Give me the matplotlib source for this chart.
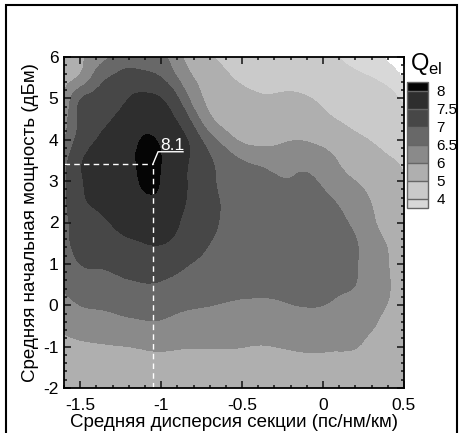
import numpy as np
import matplotlib
matplotlib.use('Agg')
import matplotlib.pyplot as plt
import matplotlib.tri as mtri
from matplotlib.colors import ListedColormap, BoundaryNorm
from matplotlib.patches import Rectangle

plt.rcParams['font.family'] = ['Liberation Sans', 'DejaVu Sans']
plt.rcParams['mathtext.fontset'] = 'custom'
plt.rcParams['mathtext.rm'] = 'Liberation Sans'

# average section dispersion (ps/nm/km) and average launch power (dBm) grid
disp = [-1.6, -1.5, -1.4, -1.3, -1.2, -1.1, -1.0, -0.9, -0.8, -0.7, -0.6,
        -0.5, -0.4, -0.3, -0.2, -0.1, 0.0, 0.1, 0.2, 0.3, 0.4, 0.5]
power = [6.0, 5.5, 5.0, 4.5, 4.0, 3.5, 3.0, 2.5, 2.0, 1.5, 1.0,
         0.5, 0.0, -0.5, -1.0, -1.5, -2.0]

# Q_el values, one row per power value (top to bottom)
q_el = [
    [5.6, 5.9, 6.25, 6.55, 6.75, 6.75, 6.6, 6.2, 5.6, 5.1, 4.75, 4.6, 4.5, 4.4, 4.3, 4.2, 4.1, 4.0, 3.9, 3.8, 3.7, 3.6],
    [5.8, 6.1, 6.7, 7.05, 7.2, 7.15, 7.0, 6.5, 6.0, 5.6, 5.15, 4.85, 4.7, 4.65, 4.6, 4.5, 4.35, 4.2, 4.1, 4.0, 3.9, 3.8],
    [6.0, 6.95, 7.2, 7.35, 7.5, 7.6, 7.5, 7.05, 6.3, 5.85, 5.5, 5.25, 5.1, 5.08, 5.15, 5.05, 4.85, 4.6, 4.4, 4.25, 4.1, 3.95],
    [6.25, 7.1, 7.35, 7.5, 7.65, 7.82, 7.72, 7.45, 6.8, 6.1, 5.75, 5.5, 5.35, 5.3, 5.4, 5.35, 5.15, 4.95, 4.7, 4.5, 4.3, 4.15],
    [6.45, 7.2, 7.5, 7.68, 7.8, 8.05, 7.92, 7.7, 7.3, 6.7, 6.25, 5.9, 5.78, 5.8, 5.95, 5.93, 5.75, 5.5, 5.2, 4.95, 4.7, 4.5],
    [6.8, 7.45, 7.62, 7.72, 7.86, 8.14, 8.0, 7.7, 7.4, 7.05, 6.75, 6.5, 6.4, 6.35, 6.4, 6.4, 6.25, 5.95, 5.6, 5.3, 5.08, 4.9],
    [6.9, 7.45, 7.6, 7.7, 7.82, 8.08, 7.97, 7.7, 7.35, 7.07, 6.9, 6.75, 6.65, 6.56, 6.52, 6.55, 6.43, 6.2, 6.0, 5.7, 5.35, 5.05],
    [6.9, 7.4, 7.55, 7.68, 7.8, 7.9, 7.88, 7.65, 7.35, 7.1, 6.95, 6.85, 6.8, 6.78, 6.75, 6.7, 6.62, 6.45, 6.25, 5.98, 5.6, 5.2],
    [6.9, 7.2, 7.4, 7.52, 7.65, 7.72, 7.7, 7.53, 7.3, 7.08, 6.95, 6.88, 6.85, 6.85, 6.85, 6.8, 6.75, 6.6, 6.4, 6.1, 5.7, 5.3],
    [6.85, 7.15, 7.25, 7.35, 7.42, 7.5, 7.52, 7.38, 7.2, 7.0, 6.9, 6.85, 6.85, 6.88, 6.88, 6.85, 6.8, 6.7, 6.53, 6.25, 5.95, 5.5],
    [6.75, 7.0, 7.03, 7.06, 7.12, 7.2, 7.18, 7.08, 6.98, 6.88, 6.82, 6.8, 6.8, 6.82, 6.82, 6.8, 6.75, 6.68, 6.53, 6.3, 6.02, 5.6],
    [6.6, 6.8, 6.88, 6.92, 6.95, 6.98, 6.96, 6.9, 6.85, 6.78, 6.72, 6.7, 6.7, 6.72, 6.72, 6.7, 6.65, 6.58, 6.5, 6.3, 6.05, 5.65],
    [6.3, 6.5, 6.55, 6.6, 6.65, 6.68, 6.67, 6.6, 6.55, 6.51, 6.45, 6.4, 6.38, 6.4, 6.48, 6.52, 6.5, 6.4, 6.3, 6.15, 5.98, 5.65],
    [6.1, 6.25, 6.3, 6.33, 6.38, 6.42, 6.42, 6.35, 6.3, 6.25, 6.22, 6.2, 6.2, 6.22, 6.26, 6.28, 6.25, 6.2, 6.12, 6.03, 5.85, 5.6],
    [5.8, 5.88, 5.93, 5.97, 6.0, 6.05, 6.07, 6.04, 6.02, 6.02, 6.02, 6.01, 5.98, 6.0, 6.04, 6.07, 6.06, 6.05, 6.02, 5.85, 5.65, 5.5],
    [5.62, 5.66, 5.7, 5.73, 5.76, 5.8, 5.82, 5.8, 5.78, 5.77, 5.76, 5.75, 5.74, 5.75, 5.78, 5.8, 5.8, 5.78, 5.72, 5.6, 5.48, 5.38],
    [5.45, 5.48, 5.5, 5.52, 5.55, 5.58, 5.6, 5.58, 5.56, 5.55, 5.54, 5.53, 5.52, 5.53, 5.55, 5.56, 5.56, 5.54, 5.5, 5.42, 5.33, 5.25],
]

# corner of the plane without data (upper right)
blank_disp = [0.37, 0.5]
blank_power = [6.0, 5.5]

levels = [4, 5, 6, 6.5, 7, 7.5, 8]
level_labels = ['4', '5', '6', '6.5', '7', '7.5', '8']
band_colors = ['#cacaca', '#afafaf', '#8a8a8a', '#686868', '#474747', '#2e2e2e']
under_color = '#d8d8d8'
over_color = '#050505'

# best point
peak_disp = -1.05
peak_power = 3.42
peak_label = '8.1'

# ---- triangulate the grid and let matplotlib smooth it ----
X, Y = np.meshgrid(disp, power)
Z = np.array(q_el)
ny, nx = Z.shape
tris = []
for j in range(ny - 1):
    for i in range(nx - 1):
        a = j * nx + i
        b = a + 1
        c = a + nx
        d = c + 1
        tris.append([a, b, d])
        tris.append([a, d, c])
tri = mtri.Triangulation(X.ravel(), Y.ravel(), np.array(tris))
refiner = mtri.UniformTriRefiner(tri)
tri_f, z_f = refiner.refine_field(Z.ravel(), subdiv=3)

cx = tri_f.x[tri_f.triangles].mean(axis=1)
cy = tri_f.y[tri_f.triangles].mean(axis=1)
slope = (blank_disp[1] - blank_disp[0]) / (blank_power[0] - blank_power[1])
tri_f.set_mask(cx > blank_disp[0] + (blank_power[0] - cy) * slope)

cmap = ListedColormap(band_colors)
cmap.set_under(under_color)
cmap.set_over(over_color)
norm = BoundaryNorm(levels, cmap.N)

fig = plt.figure(figsize=(4.59, 4.33), dpi=100)
ax = fig.add_axes([64 / 459, 45 / 433, 340 / 459, 331 / 433])

cs = ax.tricontourf(tri_f, z_f, levels=levels, cmap=cmap, norm=norm, extend='both')

# dashed guide lines to the maximum
dash = (0, (4, 3))
ax.plot([disp[0], peak_disp], [peak_power, peak_power], color='white', lw=1, ls=dash)
ax.plot([peak_disp, peak_disp], [power[-1], peak_power], color='white', lw=1, ls=dash)
ax.plot([peak_disp, peak_disp + 0.031, peak_disp + 0.185],
        [peak_power, peak_power + 0.29, peak_power + 0.29], color='white', lw=1)
ax.text(peak_disp + 0.045, peak_power + 0.33, peak_label, color='white',
        fontsize=12.5, ha='left', va='baseline')

ax.set_xlim(-1.6, 0.5)
ax.set_ylim(-2, 6)
ax.set_xticks([-1.5, -1, -0.5, 0, 0.5])
ax.set_xticklabels(['-1.5', '-1', '-0.5', '0', '0.5'])
ax.set_yticks([-2, -1, 0, 1, 2, 3, 4, 5, 6])
ax.set_yticklabels(['-2', '-1', '0', '1', '2', '3', '4', '5', '6'])
ax.xaxis.set_minor_locator(matplotlib.ticker.MultipleLocator(0.1))
ax.yaxis.set_minor_locator(matplotlib.ticker.MultipleLocator(0.2))
ax.tick_params(which='both', direction='in', top=True, right=True, width=1.1,
               labelsize=12.5, color='#111111')
ax.tick_params(axis='x', which='major', length=5, pad=7)
ax.tick_params(axis='y', which='major', length=5, pad=4)
ax.tick_params(which='minor', length=2.5)
for s in ax.spines.values():
    s.set_linewidth(1.3)
ax.set_xlabel('Средняя дисперсия секции (пс/нм/км)', fontsize=13.5, labelpad=1)
ax.set_ylabel('Средняя начальная мощность (дБм)', fontsize=13.5, labelpad=3)

# legend bar
cax = fig.add_axes([407 / 459, (433 - 208) / 433, 21 / 459, 126 / 433])
cb = fig.colorbar(cs, cax=cax, extend='both', extendrect=True,
                  extendfrac=1 / 12, spacing='uniform', drawedges=True, ticks=levels)
cb.set_ticklabels(level_labels)
cb.ax.tick_params(length=0, labelsize=11, pad=6)
cb.outline.set_edgecolor('#666666')
cb.outline.set_linewidth(1)
cb.dividers.set_color('#666666')
cb.dividers.set_linewidth(1)
fig.text(410 / 459, (433 - 70) / 433, r'Q$_{\mathrm{el}}$', fontsize=17, ha='left', va='baseline')

# frame around the whole picture
fig.patches.append(Rectangle((6 / 459, -0.05), 451 / 459, 1.05 - 5 / 433,
                             transform=fig.transFigure, fill=False,
                             edgecolor='black', linewidth=1.5))

fig.savefig('out.png', dpi=100)
